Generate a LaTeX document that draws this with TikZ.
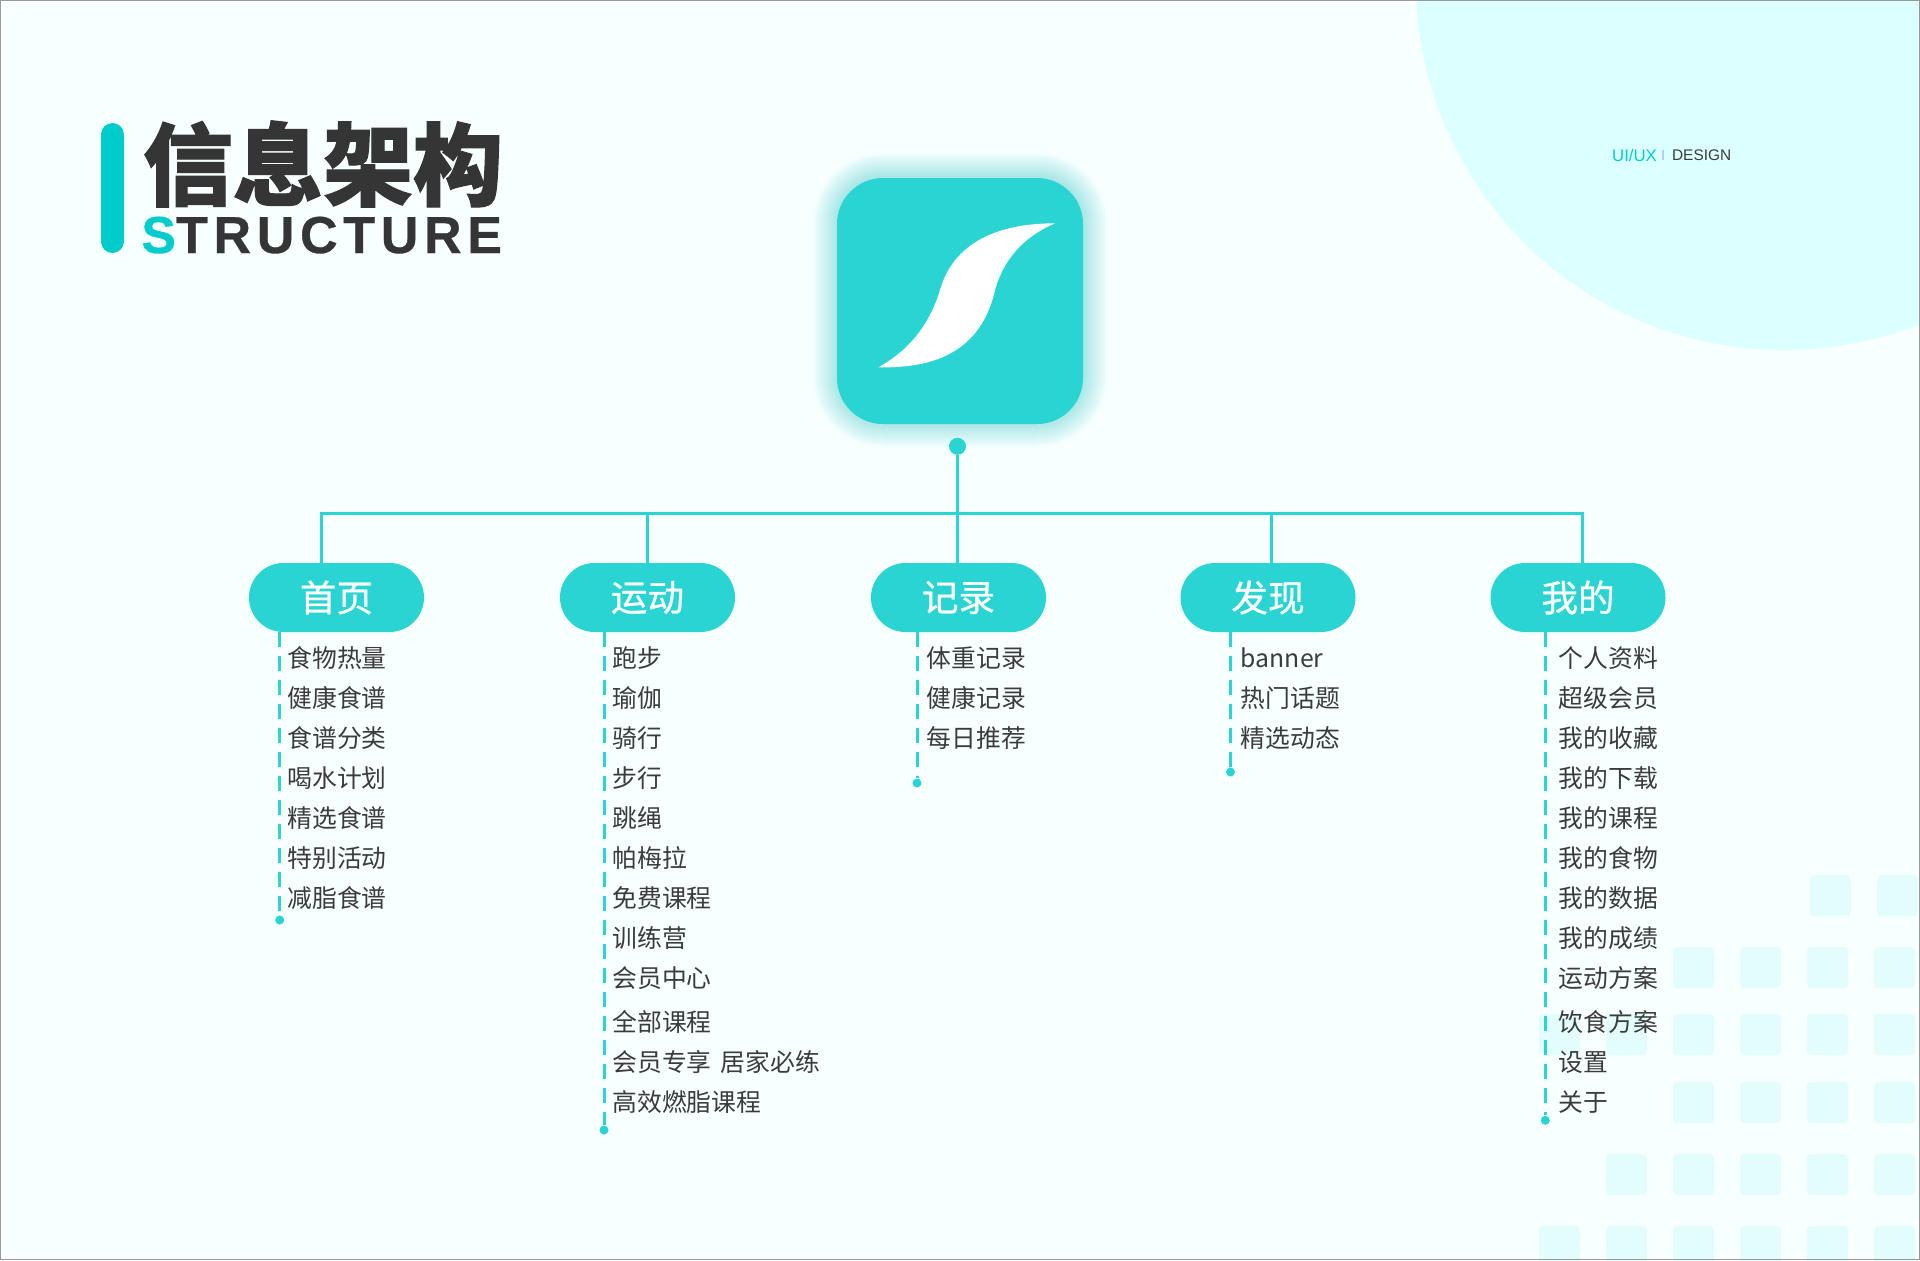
\documentclass[tikz,border=0pt]{standalone}
\usepackage{fontspec}
\setmainfont{Liberation Sans}
\newfontfamily\cjkfont[BoldFeatures={FakeBold=1.2}]{Noto Sans CJK SC}
\newfontfamily\cjkmedium[FakeBold=0.7]{Noto Sans CJK SC}
\newfontfamily\latinspaced[LetterSpace=11,BoldFeatures={FakeBold=0.6}]{Liberation Sans}
\usetikzlibrary{positioning}
\usepackage{xcolor}
\definecolor{teal1}{HTML}{29D4D2}
\definecolor{teal2}{HTML}{00CCCC}
\definecolor{pagebg}{HTML}{F7FFFF}
\definecolor{disc}{HTML}{DCFFFF}
\definecolor{tile}{HTML}{E2FDFC}
\definecolor{ink}{HTML}{3B3B3B}
\definecolor{sepblue}{HTML}{B4CCFF}
\tikzset{
 tabpill/.style={rectangle, rounded corners=17.25pt, fill=teal1, text=white, minimum width=87.5pt, minimum height=34.5pt, inner sep=0pt, font=\cjkmedium\fontsize{18.3}{20}\selectfont},
 rowtext/.style={anchor=west, inner sep=0pt, text=ink, text height=11pt, text depth=1.6pt, font=\cjkfont\fontsize{12.4}{15}\selectfont},
 enddot/.style={circle, fill=teal1, inner sep=0pt, minimum size=4.5pt},
 busline/.style={teal1, line width=1.5pt},
 dashline/.style={teal1, line width=1.5pt, dash pattern=on 7.5pt off 4.5pt},
 bgtile/.style={fill=tile, rounded corners=2pt}
}
\begin{document}
\begin{tikzpicture}[x=0.5pt,y=-0.5pt]
\useasboundingbox (0,0) rectangle (1920,1260);
\begin{scope}
\clip (0,0) rectangle (1920,1260);
\fill[pagebg] (0,0) rectangle (1920,1260);
\fill[disc] (1784,-18) circle (184pt);

\foreach \x in {1810,1877}{
  \fill[bgtile] (\x,875) rectangle ++(41,41);
}
\foreach \y/\cols in {947/{2,3,4,5},1014/{0,1,2,3,4,5},1082/{2,3,4,5},1154/{1,2,3,4,5},1226/{0,1,2,3,4,5}}{
  \foreach \c in \cols{
    \fill[bgtile] (1539+67*\c,\y) rectangle ++(41,41);
  }
}
\end{scope}

\fill[teal2, rounded corners=5.75pt] (101,123) rectangle (124,253);
\node[anchor=center, inner sep=0pt, text=ink!90!black, font=\cjkfont\bfseries\fontsize{45}{50}\selectfont] (titlecn) at (323,164) {信息架构};
\node[anchor=base west, inner sep=0pt, text=ink!90!black, font=\latinspaced\bfseries\fontsize{26}{30}\selectfont] (titleen) at (141,253) {\textcolor{teal2}{S}TRUCTURE};

\node[anchor=west, inner sep=0pt, text=teal2, font=\fontsize{8.4}{10}\selectfont] (tagui) at (1611.7,155) {UI/UX};
\node[anchor=west, inner sep=0pt, text=ink, font=\fontsize{7.7}{10}\selectfont] (tagdesign) at (1671.7,155) {DESIGN};
\fill[sepblue] (1662.3,150) rectangle (1664,159.5);

% icon with its glow
\foreach \i in {24,23,...,1}{
  \fill[teal1, opacity=0.016, rounded corners=23pt+\i*0.5pt] (837-\i,178-\i-1) rectangle (1083+\i,424+\i-1);
}
\node[rectangle, rounded corners=23pt, fill=teal1, minimum size=123pt, inner sep=0pt] (appicon) at (960,301) {};
\fill[white] (1055,223.3) .. controls (996.7,223.3) and (953.3,243.3) .. (940,290) .. controls (930,323.3) and (910,350) .. (878.3,367.3) .. controls (926.7,368.3) and (980,356.7) .. (995,290) .. controls (1003.3,260) and (1023.3,236.7) .. (1055,223.3) -- cycle;

\node[circle, fill=teal1, inner sep=0pt, minimum size=8.5pt] (topdot) at (957.5,446.3) {};
\coordinate (busL) at (321.5,513);
\coordinate (busR) at (1582,513);
\coordinate (busM) at (957.5,513);
\coordinate (busB) at (647,513);
\coordinate (busD) at (1271,513);

\node[tabpill] (shouye) at (336.5,597.5) {首页};
\node[tabpill] (yundong) at (647.5,597.5) {运动};
\node[tabpill] (jilu) at (958.5,597.5) {记录};
\node[tabpill] (faxian) at (1268,597.5) {发现};
\node[tabpill] (wode) at (1578,597.5) {我的};

\draw[busline] (topdot) -- (busM);
\draw[busline, line cap=rect] (busL) -- (busR);
\draw[busline] (busL) -- (busL |- shouye.north);
\draw[busline] (busB) -- (busB |- yundong.north);
\draw[busline] (busM) -- (busM |- jilu.north);
\draw[busline] (busD) -- (busD |- faxian.north);
\draw[busline] (busR) -- (busR |- wode.north);

\node[enddot] (dotA) at (279.7,920) {};
\node[enddot] (dotB) at (604,1130) {};
\node[enddot] (dotC) at (917,783) {};
\node[enddot] (dotD) at (1230.5,772) {};
\node[enddot] (dotE) at (1545.3,1120.3) {};

\draw[dashline] (dotA |- shouye.south) -- (dotA);
\draw[dashline] (dotB |- yundong.south) -- (dotB);
\draw[dashline] (dotC |- jilu.south) -- (dotC);
\draw[dashline] (dotD |- faxian.south) -- (dotD);
\draw[dashline] (dotE |- wode.south) -- (dotE);

\foreach \y/\label [count=\i] in {658/食物热量,698/健康食谱,738/食谱分类,778/喝水计划,818/精选食谱,858/特别活动,898/减脂食谱}{
  \node[rowtext] (rowA\i) at (287,\y) {\label};
}
\foreach \y/\label [count=\i] in {658/跑步,698/瑜伽,738/骑行,778/步行,818/跳绳,858/帕梅拉,898/免费课程,938/训练营,978/会员中心,1022/全部课程,1062/会员专享\hspace{1.8pt} 居家必练,1102/高效燃脂课程}{
  \node[rowtext] (rowB\i) at (612,\y) {\label};
}
\foreach \y/\label [count=\i] in {658/体重记录,698/健康记录,738/每日推荐}{
  \node[rowtext] (rowC\i) at (926.5,\y) {\label};
}
\foreach \y/\label [count=\i] in {658/banner,698/热门话题,738/精选动态}{
  \node[rowtext] (rowD\i) at (1240.5,\y) {\label};
}
\foreach \y/\label [count=\i] in {658/个人资料,698/超级会员,738/我的收藏,778/我的下载,818/我的课程,858/我的食物,898/我的数据,938/我的成绩,978/运动方案,1022/饮食方案,1062/设置,1102/关于}{
  \node[rowtext] (rowE\i) at (1558.5,\y) {\label};
}

\draw[gray!80, line width=0.5pt] (0.5,0.5) rectangle (1919.5,1259.5);
\end{tikzpicture}
\end{document}
